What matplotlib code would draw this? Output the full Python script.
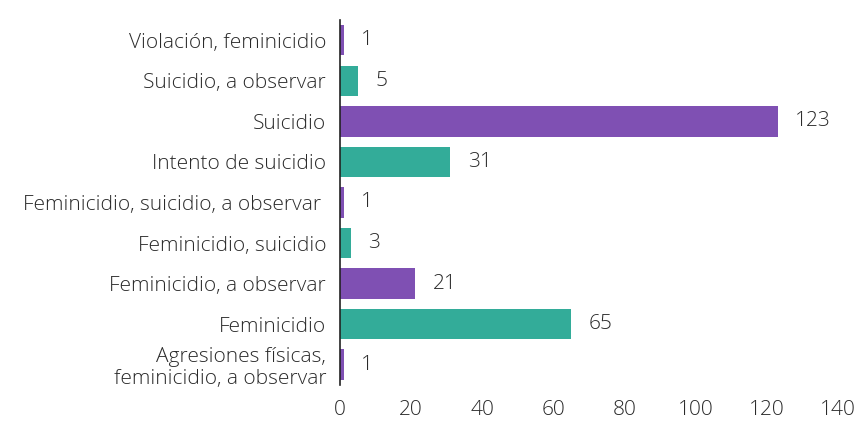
import matplotlib
matplotlib.use("Agg")
import matplotlib.pyplot as plt

categories = [
    "Violación, feminicidio",
    "Suicidio, a observar",
    "Suicidio",
    "Intento de suicidio",
    "Feminicidio, suicidio, a observar ",
    "Feminicidio, suicidio",
    "Feminicidio, a observar",
    "Feminicidio",
    "Agresiones físicas,\nfeminicidio, a observar",
]
values = [1, 5, 123, 31, 1, 3, 21, 65, 1]
xticks = [0, 20, 40, 60, 80, 100, 120, 140]

purple = "#7F50B3"
teal = "#33AC99"
colors = [purple if i % 2 == 0 else teal for i in range(len(values))]

plt.rcParams['font.family'] = ['Open Sans', 'DejaVu Sans']
FS = 15
W = 'light'
TC = '#2a2a2a'

fig = plt.figure(figsize=(8.63, 4.24), dpi=100)
ax = fig.add_axes([0.394, 0.092, 0.577, 0.861])

n = len(values)
ypos = [n - 1 - i for i in range(n)]
ax.barh(ypos, values, height=0.75, color=colors)
for y, v in zip(ypos, values):
    ax.text(v + 5, y, str(v), va='center', ha='left', fontsize=FS,
            fontweight=W, color=TC)

ax.set_yticks(ypos)
ax.set_yticklabels(categories, fontsize=FS, fontweight=W, color=TC, linespacing=1.1)
ax.set_xticks(xticks)
ax.set_xticklabels([str(t) for t in xticks], fontsize=FS, fontweight=W, color=TC)
ax.set_xlim(0, 140)
ax.set_ylim(-0.5, n - 0.5)
ax.tick_params(axis='both', length=0)
ax.tick_params(axis='y', pad=10)
ax.tick_params(axis='x', pad=11)
for s in ['top', 'right', 'bottom']:
    ax.spines[s].set_visible(False)
ax.spines['left'].set_color('#222222')
ax.spines['left'].set_linewidth(1.2)

fig.savefig("out.png", dpi=100, facecolor='white')
